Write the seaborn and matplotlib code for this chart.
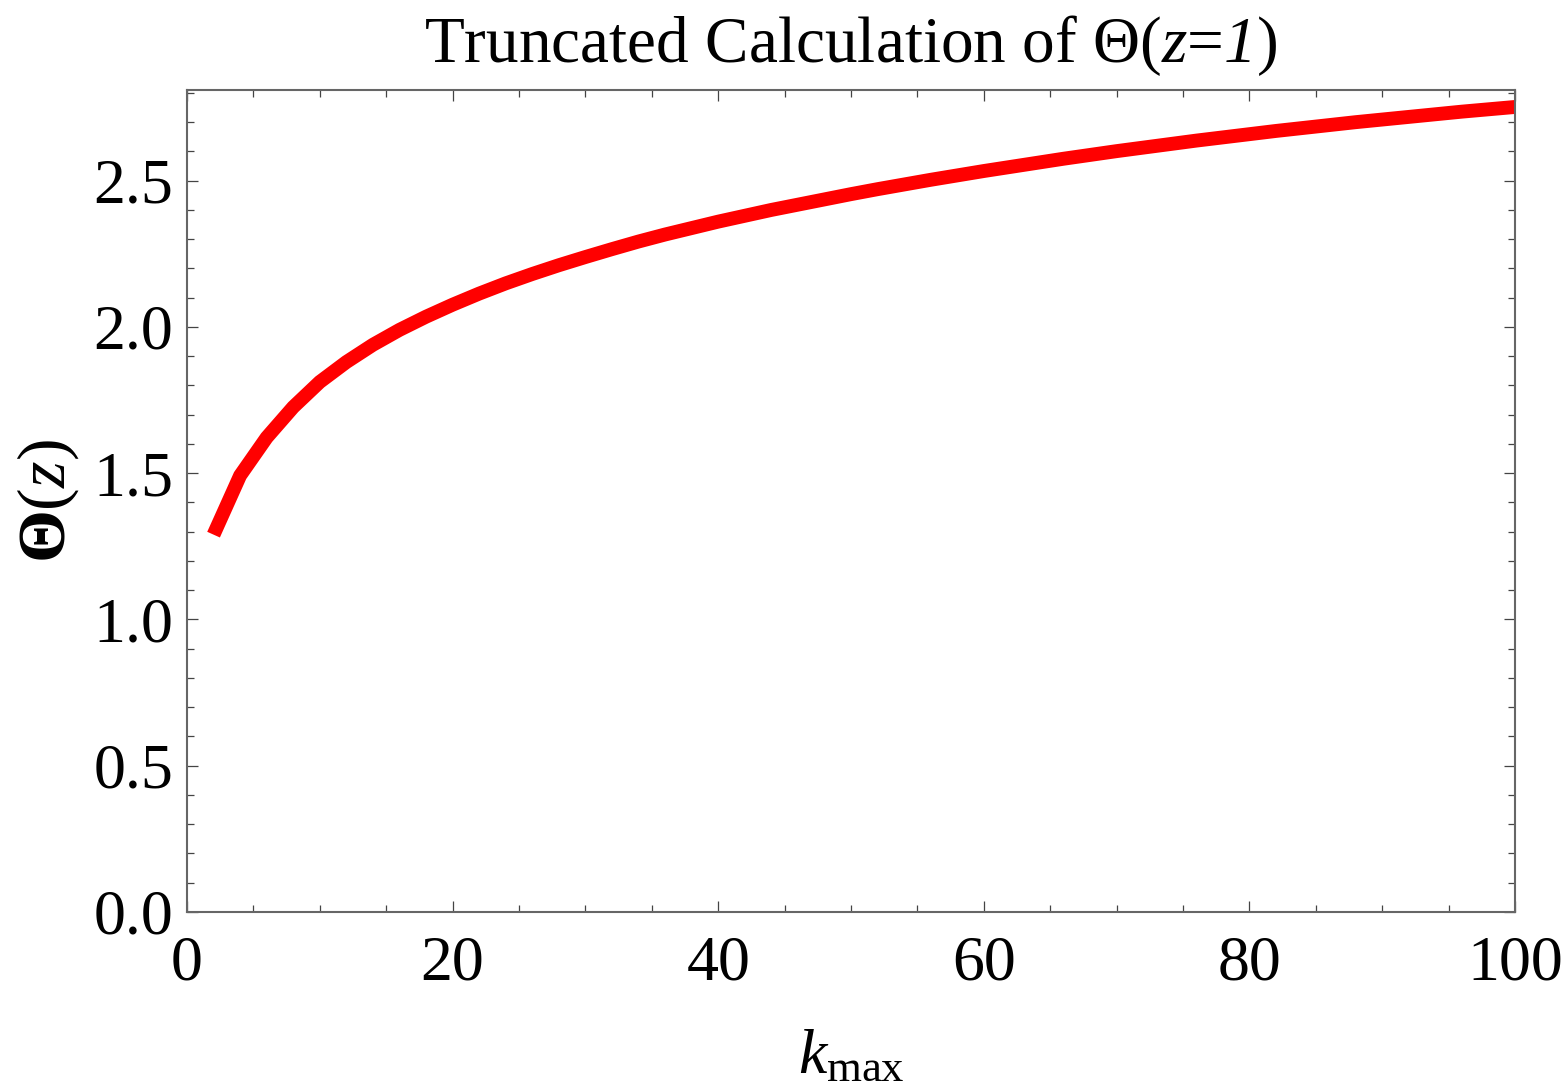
import matplotlib
matplotlib.use("Agg")
import matplotlib.pyplot as plt
import seaborn as sns
import numpy as np
import pandas as pd
from matplotlib.ticker import MultipleLocator, FormatStrFormatter

# ---- data ----
k_max = [2, 4, 6, 8, 10, 12, 14, 16, 18, 20,
         22, 24, 26, 28, 30, 32, 34, 36, 38, 40,
         42, 44, 46, 48, 50, 52, 54, 56, 58, 60,
         62, 64, 66, 68, 70, 72, 74, 76, 78, 80,
         82, 84, 86, 88, 90, 92, 94, 96, 98, 100]
theta = [1.290, 1.492, 1.622, 1.726, 1.812, 1.880, 1.939, 1.990, 2.035, 2.076,
         2.114, 2.149, 2.181, 2.211, 2.239, 2.266, 2.292, 2.316, 2.338, 2.360,
         2.380, 2.400, 2.418, 2.436, 2.454, 2.471, 2.487, 2.503, 2.518, 2.533,
         2.547, 2.561, 2.575, 2.588, 2.601, 2.613, 2.625, 2.637, 2.648, 2.659,
         2.670, 2.680, 2.690, 2.700, 2.709, 2.718, 2.727, 2.736, 2.744, 2.752]
x_ticks = [0, 20, 40, 60, 80, 100]
y_ticks = [0.0, 0.5, 1.0, 1.5, 2.0, 2.5]

title_text = "Truncated Calculation of Θ($z$=$\\mathcal{1}$)"
xlabel_text = "$k_{\\mathrm{max}}$"
ylabel_text = "$\\mathbf{\\Theta}$($z$)"

sns.set_style("ticks")
plt.rcParams["font.family"] = ["Liberation Serif", "DejaVu Serif"]
plt.rcParams["mathtext.fontset"] = "custom"
plt.rcParams["mathtext.rm"] = "Liberation Serif"
plt.rcParams["mathtext.it"] = "Liberation Serif:italic"
plt.rcParams["mathtext.cal"] = "Liberation Serif:italic"
plt.rcParams["mathtext.bf"] = "Liberation Serif:bold"
plt.rcParams["text.color"] = "black"
plt.rcParams["axes.labelcolor"] = "black"
plt.rcParams["xtick.labelcolor"] = "black"
plt.rcParams["ytick.labelcolor"] = "black"

df = pd.DataFrame({"k": k_max, "theta": theta})

fig = plt.figure(figsize=(15.67, 10.88), dpi=100)
ax = fig.add_axes([187 / 1567, 1 - 912 / 1088, (1515 - 187) / 1567, (912 - 90) / 1088])

sns.lineplot(data=df, x="k", y="theta", ax=ax, color="#ff0000", linewidth=10,
             solid_capstyle="butt", solid_joinstyle="miter")

ax.set_xlim(0, 100)
ax.set_ylim(0, 2.81)
ax.set_xticks(x_ticks)
ax.set_yticks(y_ticks)
ax.xaxis.set_minor_locator(MultipleLocator(5))
ax.yaxis.set_minor_locator(MultipleLocator(0.1))
ax.yaxis.set_major_formatter(FormatStrFormatter("%.1f"))

for s in ax.spines.values():
    s.set_visible(True)
    s.set_color("#666666")
    s.set_linewidth(1.5)

ax.tick_params(which="both", direction="in", top=True, right=True,
               color="#444444", width=0.9)
ax.tick_params(which="major", length=8, labelsize=46, labelcolor="black")
ax.tick_params(which="minor", length=5)
ax.tick_params(axis="x", which="major", pad=17)
ax.tick_params(axis="y", which="major", pad=10)

ax.set_title(title_text, fontsize=47, pad=20, color="black")
ax.set_xlabel(xlabel_text, fontsize=46, labelpad=26)
ax.set_ylabel(ylabel_text, fontsize=49, labelpad=9)

fig.savefig("out.png", dpi=100, facecolor="white")
